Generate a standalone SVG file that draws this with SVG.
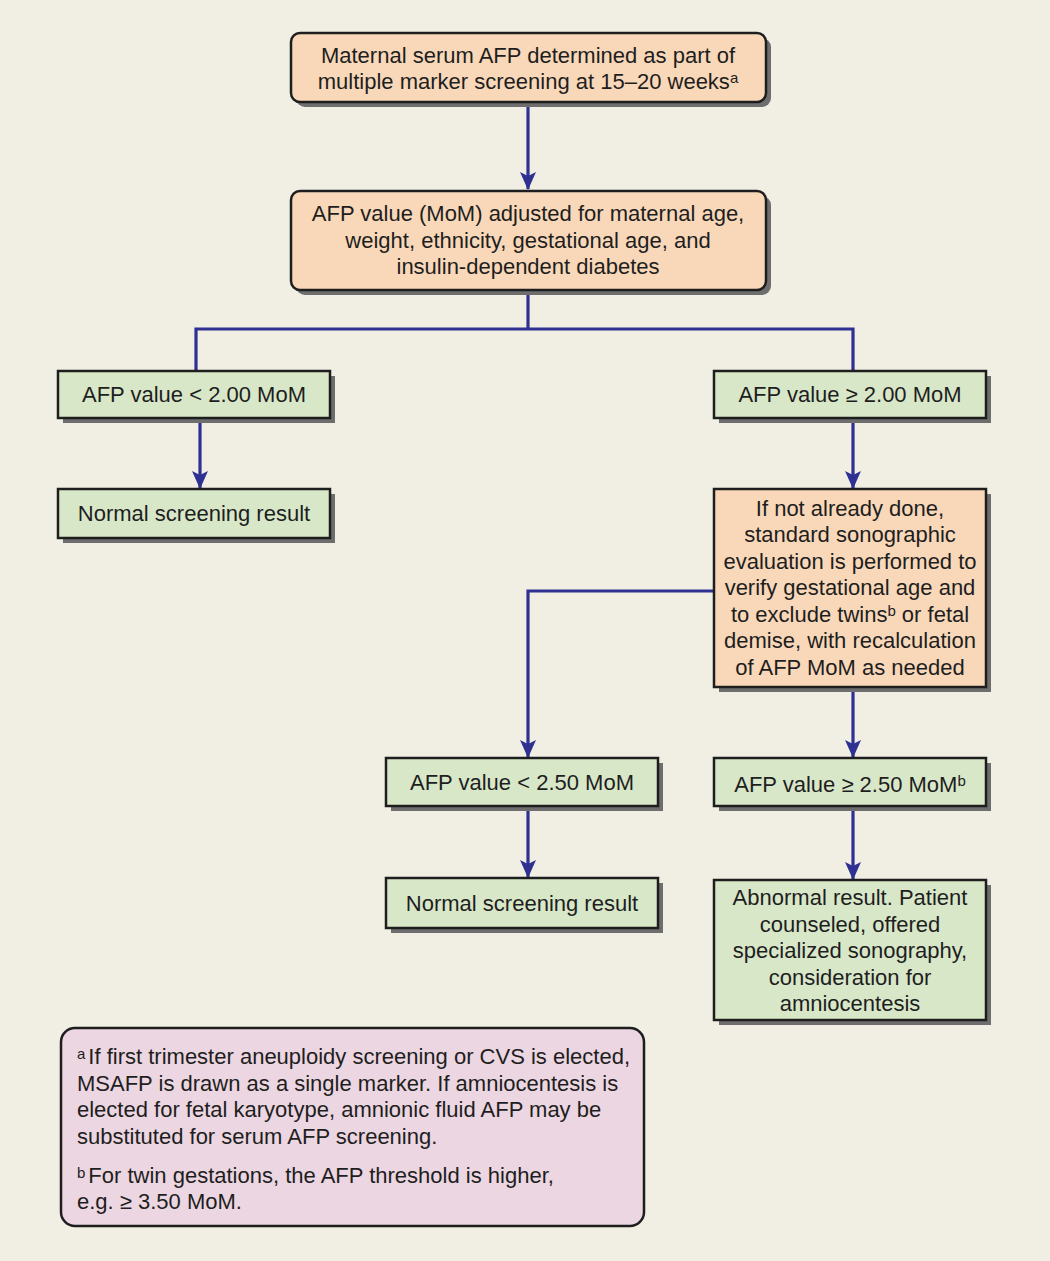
<svg xmlns="http://www.w3.org/2000/svg" width="1050" height="1261" viewBox="0 0 1050 1261">
<defs>
<style>
.bg{fill:#f1efe3}
.sh{fill:#6e6e6e}
.peach{fill:#f9d8b9;stroke:#1e1e1e;stroke-width:2.5}
.green{fill:#d9e7c9;stroke:#1e1e1e;stroke-width:2.5}
.pink{fill:#ecd6e1;stroke:#1e1e1e;stroke-width:2.5}
text{font-family:"Liberation Sans",Arial,sans-serif;font-size:22px;fill:#1e1e1e}
.c{text-anchor:middle}
.sup{font-size:15px}
.conn{fill:none;stroke:#2e3192;stroke-width:3.2}
</style>
<marker id="arr" markerUnits="userSpaceOnUse" markerWidth="18" markerHeight="16" refX="17" refY="8" orient="auto" viewBox="0 0 18 16">
<path d="M0 0 L18 8 L0 16 L4 8 Z" fill="#2e3192"/>
</marker>
</defs>
<rect class="bg" x="0" y="0" width="1050" height="1261"/>

<g id="connectors">
<path class="conn" d="M528 102 V189" marker-end="url(#arr)"/>
<path class="conn" d="M528 290 V329 M196 371 V329 H853 V371"/>
<path class="conn" d="M200 418 V488" marker-end="url(#arr)"/>
<path class="conn" d="M853 418 V488" marker-end="url(#arr)"/>
<path class="conn" d="M714 591 H528 V757" marker-end="url(#arr)"/>
<path class="conn" d="M853 687 V757" marker-end="url(#arr)"/>
<path class="conn" d="M528 806 V877" marker-end="url(#arr)"/>
<path class="conn" d="M853 806 V879" marker-end="url(#arr)"/>
</g>

<g id="n1">
<rect class="sh" x="296" y="38" width="475" height="69" rx="9"/>
<rect class="peach" x="291" y="33" width="475" height="69" rx="9"/>
<text class="c" x="528" y="63">Maternal serum AFP determined as part of</text>
<text class="c" x="528" y="89">multiple marker screening at 15–20 weeks<tspan class="sup" dy="-6">a</tspan></text>
</g>

<g id="n2">
<rect class="sh" x="296" y="196" width="475" height="99" rx="9"/>
<rect class="peach" x="291" y="191" width="475" height="99" rx="9"/>
<text class="c" x="528" y="221">AFP value (MoM) adjusted for maternal age,</text>
<text class="c" x="528" y="248">weight, ethnicity, gestational age, and</text>
<text class="c" x="528" y="274">insulin-dependent diabetes</text>
</g>

<g id="n3">
<rect class="sh" x="63" y="376" width="272" height="47"/>
<rect class="green" x="58" y="371" width="272" height="47"/>
<text class="c" x="194" y="402">AFP value &lt; 2.00 MoM</text>
</g>

<g id="n4">
<rect class="sh" x="719" y="376" width="272" height="47"/>
<rect class="green" x="714" y="371" width="272" height="47"/>
<text class="c" x="850" y="402">AFP value ≥ 2.00 MoM</text>
</g>

<g id="n5">
<rect class="sh" x="63" y="494" width="272" height="49"/>
<rect class="green" x="58" y="489" width="272" height="49"/>
<text class="c" x="194" y="521">Normal screening result</text>
</g>

<g id="n6">
<rect class="sh" x="719" y="494" width="272" height="198"/>
<rect class="peach" x="714" y="489" width="272" height="198"/>
<text class="c" x="850" y="516">If not already done,</text>
<text class="c" x="850" y="542">standard sonographic</text>
<text class="c" x="850" y="569">evaluation is performed to</text>
<text class="c" x="850" y="595">verify gestational age and</text>
<text class="c" x="850" y="622">to exclude twins<tspan class="sup" dy="-6">b</tspan><tspan dy="6"> or fetal</tspan></text>
<text class="c" x="850" y="648">demise, with recalculation</text>
<text class="c" x="850" y="675">of AFP MoM as needed</text>
</g>

<g id="n7">
<rect class="sh" x="391" y="763" width="272" height="48"/>
<rect class="green" x="386" y="758" width="272" height="48"/>
<text class="c" x="522" y="790">AFP value &lt; 2.50 MoM</text>
</g>

<g id="n8">
<rect class="sh" x="719" y="763" width="272" height="48"/>
<rect class="green" x="714" y="758" width="272" height="48"/>
<text class="c" x="850" y="792">AFP value ≥ 2.50 MoM<tspan class="sup" dy="-6">b</tspan></text>
</g>

<g id="n9">
<rect class="sh" x="391" y="883" width="272" height="50"/>
<rect class="green" x="386" y="878" width="272" height="50"/>
<text class="c" x="522" y="911">Normal screening result</text>
</g>

<g id="n10">
<rect class="sh" x="719" y="885" width="272" height="140"/>
<rect class="green" x="714" y="880" width="272" height="140"/>
<text class="c" x="850" y="905">Abnormal result. Patient</text>
<text class="c" x="850" y="932">counseled, offered</text>
<text class="c" x="850" y="958">specialized sonography,</text>
<text class="c" x="850" y="985">consideration for</text>
<text class="c" x="850" y="1011">amniocentesis</text>
</g>

<g id="note">
<rect class="pink" x="61" y="1028" width="583" height="198" rx="14"/>
<text x="77" y="1064"><tspan class="sup" dy="-5">a</tspan><tspan dy="5" dx="3">If first trimester aneuploidy screening or CVS is elected,</tspan></text>
<text x="77" y="1091">MSAFP is drawn as a single marker. If amniocentesis is</text>
<text x="77" y="1117">elected for fetal karyotype, amnionic fluid AFP may be</text>
<text x="77" y="1144">substituted for serum AFP screening.</text>
<text x="77" y="1183"><tspan class="sup" dy="-5">b</tspan><tspan dy="5" dx="3">For twin gestations, the AFP threshold is higher,</tspan></text>
<text x="77" y="1209">e.g. ≥ 3.50 MoM.</text>
</g>
</svg>
